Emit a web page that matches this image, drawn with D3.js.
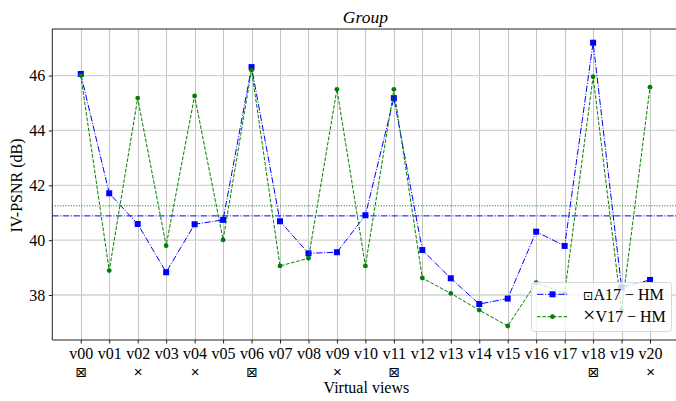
<!DOCTYPE html>
<html>
<head>
<meta charset="utf-8">
<script src="https://cdn.jsdelivr.net/npm/d3@7"></script>
<style>
  html, body { margin: 0; padding: 0; background: #fff; }
  svg { display: block; }
  text { font-family: "Liberation Serif", "Times New Roman", Times, serif; fill: #000; }
</style>
</head>
<body>
<svg id="chart" width="676" height="401"></svg>
<script>
// ---- data ----
const categories = ["v00","v01","v02","v03","v04","v05","v06","v07","v08","v09","v10",
                    "v11","v12","v13","v14","v15","v16","v17","v18","v19","v20"];
const viewMarks = ["⊠","","×","","×","","⊠","","","×","","⊠","","","","","","","⊠","","×"];
const a17hm = [46.06,41.71,40.59,38.83,40.58,40.74,46.31,40.69,39.52,39.56,40.91,
               45.18,39.64,38.61,37.67,37.87,40.31,39.79,47.20,38.28,38.55];
const v17hm = [46.01,38.89,45.18,39.80,45.26,40.01,46.20,39.06,39.34,45.50,39.06,
               45.50,38.62,38.06,37.45,36.87,38.45,38.06,45.96,37.45,45.58];
const yTicks = [38,40,42,44,46];
const seriesNames = ["A17 − HM","V17 − HM"];
const legendSymbols = ["⊡","×"];
const titleText = "Group";
const xLabel = "Virtual views";
const yLabel = "IV-PSNR (dB)";

// ---- layout ----
const serif = '"Liberation Serif", "Times New Roman", Times, serif';
const symFont = '"DejaVu Sans", sans-serif';
const crossFont = '"Liberation Sans", Arial, sans-serif';
const svg = d3.select("#chart");
const L = 52.3, R = 678.5, T = 29, B = 340;
const x = d3.scaleLinear().domain([-1, categories.length]).range([L, R]);
const y = d3.scaleLinear().domain([36.36, 47.70]).range([B, T]);
const idx = d3.range(categories.length);

// grid
const g = svg.append("g");
g.selectAll(".vg").data(idx).join("line")
  .attr("x1", d => Math.round(x(d)) + 0.5).attr("x2", d => Math.round(x(d)) + 0.5)
  .attr("y1", T).attr("y2", B)
  .attr("stroke", "#c4c4c4").attr("stroke-width", 1);
g.selectAll(".hg").data(yTicks).join("line")
  .attr("x1", L).attr("x2", 676)
  .attr("y1", d => y(d)).attr("y2", d => y(d))
  .attr("stroke", "#d2d2d2").attr("stroke-width", 1.3);

// mean lines
const meanA = d3.mean(a17hm), meanV = d3.mean(v17hm);
svg.append("line").attr("x1", L).attr("x2", 676).attr("y1", y(meanA)).attr("y2", y(meanA))
  .attr("stroke", "#0000ff").attr("stroke-width", 1).attr("stroke-dasharray", "6.4,1.6,1,1.6");
svg.append("line").attr("x1", L).attr("x2", 676).attr("y1", y(meanV)).attr("y2", y(meanV))
  .attr("stroke", "#008000").attr("stroke-width", 1).attr("stroke-dasharray", "1,1.65");

// series
const line = d3.line().x((d, i) => x(i)).y(d => y(d));
svg.append("path").datum(a17hm).attr("d", line).attr("fill", "none")
  .attr("stroke", "#0000ff").attr("stroke-width", 1).attr("stroke-dasharray", "6.4,1.6,1,1.6");
svg.selectAll(".ma").data(a17hm).join("rect")
  .attr("x", (d, i) => x(i) - 3).attr("y", d => y(d) - 3)
  .attr("width", 6).attr("height", 6).attr("fill", "#0000ff");
svg.append("path").datum(v17hm).attr("d", line).attr("fill", "none")
  .attr("stroke", "#008000").attr("stroke-width", 1).attr("stroke-dasharray", "3.7,1.6");
svg.selectAll(".mv").data(v17hm).join("circle")
  .attr("cx", (d, i) => x(i)).attr("cy", d => y(d)).attr("r", 2.4).attr("fill", "#008000");

// spines
svg.append("line").attr("x1", L).attr("x2", 676).attr("y1", T).attr("y2", T).attr("stroke", "#222").attr("stroke-width", 1);
svg.append("line").attr("x1", L).attr("x2", 676).attr("y1", B).attr("y2", B).attr("stroke", "#222").attr("stroke-width", 1);
svg.append("line").attr("x1", L).attr("x2", L).attr("y1", T).attr("y2", B).attr("stroke", "#222").attr("stroke-width", 1);

// x axis (two-line tick labels: view name + view-type mark)
const xa = svg.append("g").attr("transform", `translate(0,${B})`)
  .call(d3.axisBottom(x).tickValues(idx).tickFormat(i => categories[i]).tickSize(3.5).tickPadding(4));
xa.attr("font-family", null).attr("font-size", null);
xa.select(".domain").remove();
xa.selectAll(".tick line").attr("stroke", "#222");
xa.selectAll(".tick text").each(function(i) {
  const t = d3.select(this).text(null).attr("y", 0).attr("dy", null)
    .style("font-family", serif).style("font-size", "16px");
  t.append("tspan").attr("x", 0).attr("y", 18.5).text(categories[i]);
  if (viewMarks[i] !== "") {
    const isX = viewMarks[i] === "×";
    t.append("tspan").attr("x", 0).attr("y", 36.5)
      .style("font-family", isX ? crossFont : symFont)
      .style("font-size", isX ? "15px" : "14px")
      .text(viewMarks[i]);
  }
});

// y axis
const ya = svg.append("g").attr("transform", `translate(${L},0)`)
  .call(d3.axisLeft(y).tickValues(yTicks).tickSize(3.5).tickPadding(3.5));
ya.attr("font-family", null).attr("font-size", null);
ya.select(".domain").remove();
ya.selectAll(".tick line").attr("stroke", "#222");
ya.selectAll(".tick text").style("font-family", serif).style("font-size", "16px");

// labels
svg.append("text").attr("x", (L + R) / 2).attr("y", 22.5).attr("text-anchor", "middle")
  .style("font-family", serif).style("font-size", "17.5px").style("font-style", "italic").text(titleText);
svg.append("text").attr("x", (L + R) / 2 + 1).attr("y", 393).attr("text-anchor", "middle")
  .style("font-family", serif).style("font-size", "16px").text(xLabel);
svg.append("text").attr("transform", `translate(22,${(T + B) / 2 + 1}) rotate(-90)`)
  .attr("text-anchor", "middle").style("font-family", serif).style("font-size", "16px").text(yLabel);

// legend
const lg = svg.append("g");
lg.append("rect").attr("x", 531.5).attr("y", 282.5).attr("width", 140).attr("height", 49)
  .attr("rx", 3).attr("fill", "#fff").attr("fill-opacity", 0.8).attr("stroke", "#d8d8d8");
const rows = [
  {c: "#0000ff", dash: "6.4,1.6,1,1.6", shape: "sq"},
  {c: "#008000", dash: "3.7,1.6", shape: "ci"}
];
rows.forEach((r, k) => {
  const yy = 294.3 + k * 22.4;
  lg.append("line").attr("x1", 537).attr("x2", 568).attr("y1", yy).attr("y2", yy)
    .attr("stroke", r.c).attr("stroke-width", 1).attr("stroke-dasharray", r.dash);
  if (r.shape === "sq") lg.append("rect").attr("x", 549.5).attr("y", yy - 3).attr("width", 6).attr("height", 6).attr("fill", r.c);
  else lg.append("circle").attr("cx", 552.5).attr("cy", yy).attr("r", 2.4).attr("fill", r.c);
  const t = lg.append("text").attr("x", 583).attr("y", yy + 5.5).style("font-family", serif).style("font-size", "16px");
  t.append("tspan").style("font-family", k === 0 ? symFont : serif).style("font-size", k === 0 ? "12.5px" : "22px").text(legendSymbols[k]);
  t.append("tspan").text(seriesNames[k]);
});
</script>
</body>
</html>
